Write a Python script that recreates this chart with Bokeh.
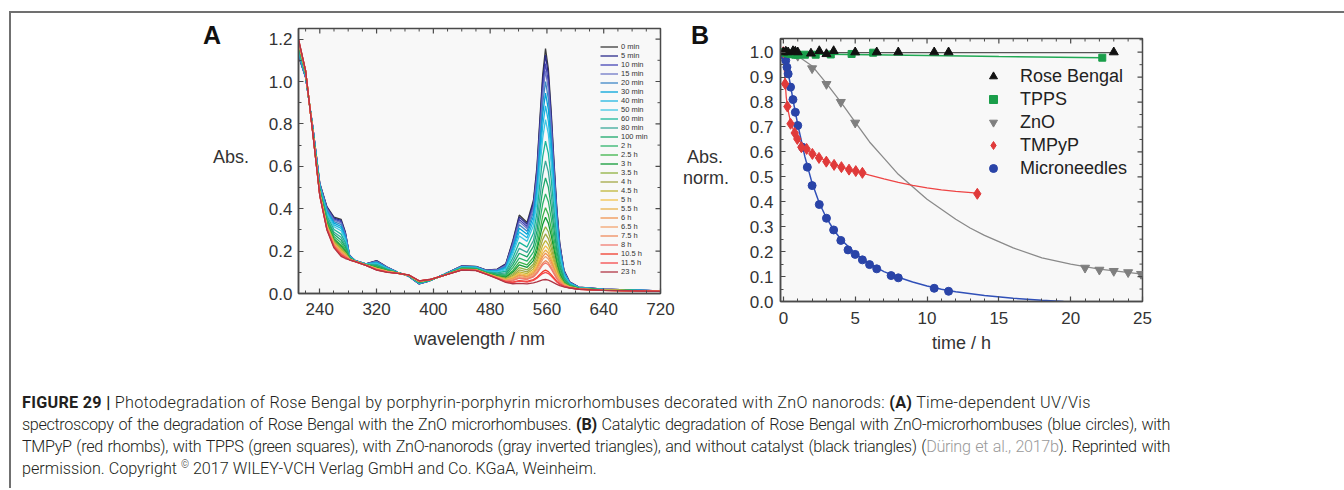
import math
from bokeh.plotting import figure
from bokeh.models import (Div, Legend, LegendItem, FixedTicker, NumeralTickFormatter, Range1d)
from bokeh.layouts import row, column
from bokeh.embed import file_html
from bokeh.resources import INLINE
from bokeh.core.properties import value

# ---------------- Panel A data: UV/Vis spectra ----------------
time_labels = ["0 min", "5 min", "10 min", "15 min", "20 min", "30 min", "40 min", "50 min",
               "60 min", "80 min", "100 min", "2 h", "2.5 h", "3 h", "3.5 h", "4 h", "4.5 h",
               "5 h", "5.5 h", "6 h", "6.5 h", "7.5 h", "8 h", "10.5 h", "11.5 h", "23 h"]
curve_colors = ["#3a3a3a", "#2b2b8c", "#4545b5", "#6f78c6", "#3d86c6", "#00a3d9", "#1fb5e0",
                "#3fc6e3", "#19b69a", "#3aa99a", "#1aa86a", "#2db46b", "#3bb34a", "#0f9a35",
                "#8fb13f", "#a3a844", "#bfb536", "#f2c14b", "#e8b048", "#f0944f", "#f3a36e",
                "#ee8a5c", "#f07a70", "#f03a2a", "#f5474a", "#b03545"]
wavelengths = [210, 220, 230, 240, 250, 260, 270, 276, 282, 290, 305, 320, 335, 350, 365, 380,
               395, 415, 440, 460, 475, 490, 502, 512, 521, 532, 541, 546, 550, 554, 558, 562,
               566, 570, 574, 578, 584, 592, 605, 640, 720]
# absorbance read at each wavelength, one value per spectrum (0 min ... 23 h)
absorbance = {
    210: [1.12, 1.12, 1.13, 1.13, 1.13, 1.14, 1.14, 1.15, 1.15, 1.16, 1.17, 1.17, 1.18, 1.18, 1.18, 1.18, 1.19, 1.19, 1.19, 1.19, 1.19, 1.19, 1.19, 1.20, 1.20, 1.20],
    220: [1.02, 1.02, 1.02, 1.02, 1.02, 1.03, 1.03, 1.03, 1.03, 1.04, 1.04, 1.04, 1.04, 1.04, 1.04, 1.04, 1.05, 1.05, 1.05, 1.05, 1.05, 1.05, 1.05, 1.05, 1.05, 1.05],
    230: [.79, .789, .788, .787, .786, .784, .783, .781, .778, .775, .773, .771, .769, .768, .767, .766, .765, .764, .764, .763, .763, .762, .762, .761, .761, .76],
    240: [.52, .518, .516, .514, .511, .508, .505, .502, .496, .491, .486, .482, .479, .476, .474, .472, .47, .469, .468, .467, .466, .465, .464, .462, .462, .46],
    250: [.41, .407, .403, .399, .394, .389, .383, .376, .366, .356, .348, .341, .334, .33, .325, .322, .319, .316, .314, .313, .311, .309, .308, .304, .303, .30],
    260: [.36, .356, .351, .346, .339, .332, .324, .315, .302, .289, .279, .269, .26, .254, .248, .244, .24, .236, .234, .232, .23, .227, .226, .221, .219, .215],
    270: [.35, .345, .339, .333, .325, .316, .307, .296, .28, .265, .252, .24, .229, .222, .215, .209, .205, .201, .197, .195, .193, .189, .188, .182, .18, .175],
    276: [.29, .287, .282, .278, .272, .266, .259, .252, .24, .229, .22, .211, .204, .199, .194, .19, .186, .183, .181, .179, .178, .175, .174, .17, .169, .165],
    282: [.18, .179, .179, .178, .177, .176, .175, .173, .171, .169, .168, .166, .165, .164, .163, .162, .162, .161, .161, .161, .16, .16, .16, .159, .159, .158],
    290: [.155, .155, .155, .155, .154, .154, .154, .153, .153, .153, .152, .152, .152, .151, .151, .151, .151, .151, .151, .151, .15, .15, .15, .15, .15, .15],
    305: [.14, .14, .14, .139, .139, .139, .138, .138, .137, .137, .136, .136, .135, .135, .135, .134, .134, .134, .134, .134, .134, .133, .133, .133, .133, .133],
    320: [.155, .154, .152, .151, .149, .146, .144, .141, .137, .133, .13, .127, .124, .122, .12, .119, .118, .117, .116, .115, .115, .114, .113, .112, .111, .11],
    335: [.125, .124, .123, .123, .121, .12, .119, .117, .115, .113, .111, .109, .108, .107, .106, .105, .104, .104, .103, .103, .103, .102, .102, .101, .101, .10],
    350: [.10, .10, .10, .10, .099, .099, .099, .098, .098, .098, .097, .097, .097, .096, .096, .096, .096, .096, .096, .096, .095, .095, .095, .095, .095, .095],
    365: [.082, .082, .082, .083, .083, .083, .083, .084, .084, .084, .085, .085, .085, .086, .086, .086, .086, .087, .087, .087, .087, .087, .087, .088, .088, .088],
    380: [.045, .045, .046, .046, .047, .048, .049, .05, .051, .052, .053, .054, .055, .056, .057, .057, .057, .058, .058, .058, .058, .059, .059, .06, .06, .06],
    395: [.06, .06, .06, .061, .061, .061, .061, .062, .062, .062, .063, .063, .063, .064, .064, .064, .064, .065, .065, .065, .065, .065, .065, .066, .066, .066],
    415: [.09, .09, .09, .09, .089, .089, .089, .088, .088, .088, .087, .087, .087, .086, .086, .086, .086, .086, .086, .086, .085, .085, .085, .085, .085, .085],
    440: [.13, .129, .129, .128, .127, .126, .125, .124, .122, .12, .119, .117, .116, .115, .115, .114, .113, .113, .113, .112, .112, .112, .111, .111, .111, .11],
    460: [.128, .127, .127, .126, .125, .124, .123, .122, .12, .118, .117, .115, .114, .113, .113, .112, .111, .111, .111, .11, .11, .11, .109, .109, .109, .108],
    475: [.11, .109, .109, .108, .107, .106, .105, .104, .102, .10, .099, .097, .096, .095, .095, .094, .093, .093, .093, .092, .092, .092, .091, .091, .091, .09],
    490: [.115, .114, .112, .111, .109, .106, .104, .101, .097, .093, .09, .087, .084, .082, .08, .079, .078, .077, .076, .075, .075, .074, .073, .072, .071, .07],
    502: [.14, .138, .134, .132, .128, .123, .118, .113, .105, .097, .091, .085, .079, .076, .072, .069, .067, .065, .063, .062, .061, .059, .058, .056, .055, .052],
    512: [.25, .244, .237, .23, .221, .211, .199, .187, .168, .151, .136, .122, .109, .101, .093, .086, .08, .076, .072, .069, .066, .063, .061, .054, .052, .046],
    521: [.37, .361, .349, .339, .324, .308, .29, .271, .241, .213, .19, .167, .148, .135, .122, .111, .102, .095, .089, .085, .08, .074, .072, .061, .058, .048],
    532: [.335, .327, .316, .307, .294, .279, .263, .246, .219, .194, .173, .153, .135, .123, .111, .102, .094, .087, .082, .078, .074, .069, .066, .057, .054, .045],
    541: [.44, .429, .415, .403, .385, .365, .343, .32, .284, .25, .222, .195, .171, .155, .139, .127, .116, .107, .10, .094, .089, .082, .078, .066, .062, .05],
    546: [.60, .585, .565, .548, .523, .495, .465, .432, .382, .335, .295, .257, .224, .202, .18, .162, .147, .135, .125, .117, .11, .10, .095, .077, .072, .055],
    550: [.82, .799, .771, .747, .712, .673, .632, .586, .516, .45, .394, .342, .296, .265, .234, .21, .188, .171, .157, .147, .136, .122, .115, .09, .084, .06],
    554: [1.03, 1.003, .968, .937, .893, .844, .79, .732, .644, .56, .489, .422, .364, .325, .285, .254, .227, .205, .188, .174, .161, .143, .135, .103, .094, .064],
    558: [1.155, 1.125, 1.085, 1.05, 1.0, .945, .885, .82, .719, .625, .545, .47, .405, .36, .315, .281, .25, .225, .205, .19, .175, .155, .145, .11, .10, .066],
    562: [1.06, 1.032, .996, .964, .918, .868, .813, .753, .661, .574, .502, .433, .373, .332, .291, .259, .231, .209, .191, .177, .163, .145, .136, .103, .094, .063],
    566: [.86, .838, .809, .783, .746, .705, .661, .613, .539, .469, .41, .355, .307, .274, .241, .215, .193, .174, .16, .149, .137, .123, .116, .089, .082, .057],
    570: [.62, .604, .584, .565, .539, .51, .479, .444, .392, .342, .301, .261, .227, .204, .181, .162, .146, .133, .123, .115, .107, .097, .092, .073, .068, .05],
    574: [.40, .39, .377, .366, .349, .331, .311, .29, .257, .226, .20, .175, .154, .139, .125, .113, .103, .095, .089, .084, .079, .072, .069, .057, .054, .043],
    578: [.24, .234, .227, .221, .211, .201, .19, .177, .159, .141, .126, .112, .10, .092, .083, .077, .071, .067, .063, .06, .057, .054, .052, .045, .043, .037],
    584: [.11, .108, .105, .102, .099, .095, .09, .086, .078, .072, .066, .06, .056, .052, .049, .047, .044, .043, .041, .04, .039, .037, .037, .034, .033, .031],
    592: [.055, .054, .053, .052, .051, .049, .048, .046, .043, .041, .039, .037, .035, .034, .033, .032, .031, .03, .03, .029, .029, .028, .028, .027, .027, .026],
    605: [.03, .03, .029, .029, .029, .028, .028, .027, .026, .025, .024, .024, .023, .023, .022, .022, .022, .021, .021, .021, .021, .021, .021, .02, .02, .02],
    640: [.02, .02, .02, .02, .019, .019, .019, .018, .018, .018, .017, .017, .017, .016, .016, .016, .016, .016, .016, .016, .015, .015, .015, .015, .015, .015],
    720: [.012, .012, .012, .012, .012, .012, .012, .011, .011, .011, .011, .011, .011, .011, .011, .011, .011, .01, .01, .01, .01, .01, .01, .01, .01, .01],
}
A_X_RANGE = (210, 720)
A_Y_RANGE = (0, 1.25)
A_X_MAJOR = [240, 320, 400, 480, 560, 640, 720]
A_X_MINOR = [220, 260, 280, 300, 340, 360, 380, 420, 440, 460, 500, 520, 540, 580, 600, 620, 660, 680, 700]
A_Y_MAJOR = [0.0, 0.2, 0.4, 0.6, 0.8, 1.0, 1.2]
A_Y_MINOR = [0.1, 0.3, 0.5, 0.7, 0.9, 1.1]

# ---------------- Panel B data: kinetics ----------------
series_names = ["Rose Bengal", "TPPS", "ZnO", "TMPyP", "Microneedles"]
rb_t = [0.0, 0.17, 0.33, 0.67, 0.83, 1.0, 1.92, 2.5, 3.0, 3.5, 5.0, 6.5, 8.0, 10.5, 11.5, 23.0]
rb_v = [1.0, 1.003, 1.0, 1.005, 1.003, 1.0, 0.995, 1.005, 0.993, 1.005, 1.0, 1.0, 1.0, 1.0, 1.0, 1.0]
rb_fit_t = [0.0, 23.0]
rb_fit_v = [0.998, 0.998]

tp_t = [0.0, 0.17, 0.33, 0.5, 0.67, 0.83, 1.0, 1.5, 2.25, 3.3, 4.75, 6.25, 22.2]
tp_v = [1.0, 0.997, 0.995, 0.993, 0.992, 0.99, 0.99, 0.99, 0.99, 0.991, 0.993, 0.998, 0.978]
tp_fit_t = [0.0, 0.5, 1.0, 3.0, 6.0, 10.0, 15.0, 22.2]
tp_fit_v = [0.998, 0.995, 0.993, 0.992, 0.99, 0.987, 0.983, 0.978]

zn_t = [0.0, 0.33, 1.0, 2.0, 3.0, 4.0, 5.0, 21.0, 22.0, 23.0, 24.0, 24.9]
zn_v = [1.0, 0.998, 0.985, 0.935, 0.872, 0.80, 0.717, 0.135, 0.127, 0.122, 0.117, 0.11]
zn_fit_t = [0, 1, 2, 3, 4, 5, 6, 7, 8, 9, 10, 11, 12, 13, 14, 16, 18, 20, 22, 25]
zn_fit_v = [1.0, 0.985, 0.945, 0.875, 0.80, 0.72, 0.64, 0.575, 0.51, 0.46, 0.41, 0.37, 0.33,
            0.295, 0.265, 0.215, 0.175, 0.15, 0.13, 0.11]

tm_t = [0.0, 0.12, 0.28, 0.5, 0.79, 0.97, 1.25, 1.62, 2.02, 2.48, 2.99, 3.53, 4.04, 4.57, 5.04, 5.5, 13.5]
tm_v = [1.0, 0.873, 0.782, 0.713, 0.676, 0.652, 0.619, 0.612, 0.592, 0.576, 0.561, 0.548, 0.539,
        0.529, 0.523, 0.516, 0.432]
tm_fit_t = [0, 0.1, 0.2, 0.3, 0.5, 0.75, 1, 1.5, 2, 3, 4, 5, 6, 7, 8, 9, 10, 11, 12, 13.5]
tm_fit_v = [1.0, 0.9, 0.82, 0.775, 0.72, 0.68, 0.652, 0.618, 0.595, 0.562, 0.54, 0.523, 0.507,
            0.492, 0.478, 0.466, 0.456, 0.448, 0.442, 0.435]

mn_t = [0, 0.083, 0.167, 0.25, 0.333, 0.5, 0.667, 0.833, 1.0, 1.333, 1.667, 2.0, 2.5, 3.0, 3.5,
        4.0, 4.5, 5.0, 5.5, 6.0, 6.5, 7.5, 8.0, 10.5, 11.5]
mn_v = [1.0, 0.985, 0.967, 0.94, 0.913, 0.86, 0.81, 0.759, 0.706, 0.619, 0.539, 0.465, 0.389,
        0.334, 0.287, 0.245, 0.207, 0.189, 0.167, 0.148, 0.131, 0.104, 0.095, 0.053, 0.041]
mn_fit_t = [0, 0.25, 0.5, 0.75, 1, 1.5, 2, 2.5, 3, 3.5, 4, 5, 6, 7, 8, 9, 10, 11, 12, 14, 16, 18, 19.5]
mn_fit_v = [1.02, 0.945, 0.865, 0.785, 0.71, 0.58, 0.475, 0.395, 0.335, 0.288, 0.25, 0.193, 0.152,
            0.12, 0.097, 0.078, 0.062, 0.049, 0.039, 0.024, 0.013, 0.005, 0.0]
B_X_RANGE = (-0.2, 25)
B_Y_RANGE = (0, 1.055)
B_X_MAJOR = [0, 5, 10, 15, 20, 25]
B_X_MINOR = [1, 2, 3, 4, 6, 7, 8, 9, 11, 12, 13, 14, 16, 17, 18, 19, 21, 22, 23, 24]
B_Y_MAJOR = [0.0, 0.1, 0.2, 0.3, 0.4, 0.5, 0.6, 0.7, 0.8, 0.9, 1.0]
B_Y_MINOR = [0.05, 0.15, 0.25, 0.35, 0.45, 0.55, 0.65, 0.75, 0.85, 0.95, 1.05]

FONT = "Liberation Sans"
AX = "#4a4a4a"


def style_axis(ax):
    ax.axis_line_color = AX
    ax.axis_line_width = 1.5
    ax.major_tick_in = 5
    ax.major_tick_out = 0
    ax.minor_tick_in = 3
    ax.minor_tick_out = 0
    ax.major_tick_line_color = AX
    ax.minor_tick_line_color = AX
    ax.major_tick_line_width = 1.2
    ax.minor_tick_line_width = 1
    ax.major_label_text_font = FONT
    ax.major_label_text_color = "#333333"
    ax.major_label_text_font_size = "17px"
    ax.axis_label_text_font = FONT
    ax.axis_label_text_font_size = "18px"
    ax.axis_label_text_font_style = "normal"
    ax.axis_label_text_color = "#333333"


def make_fig(width, height, xr, yr, left, right, top, bottom):
    p = figure(width=width, height=height, x_range=Range1d(*xr), y_range=Range1d(*yr),
               output_backend="svg", toolbar_location=None,
               min_border_left=left, min_border_right=right,
               min_border_top=top, min_border_bottom=bottom,
               background_fill_color="#f8f8f8", border_fill_color="white",
               outline_line_color=AX, outline_line_width=1.5)
    p.grid.visible = False
    return p


def mirror_ticks(p, xr, yr, xmaj, xmin, ymaj, ymin):
    # inward tick marks on the top and right edges of the frame
    p.scatter(xmaj, [yr[1]] * len(xmaj), marker="dash", size=10, angle=math.pi / 2,
              line_color=AX, line_width=1.2)
    p.scatter(xmin, [yr[1]] * len(xmin), marker="dash", size=6, angle=math.pi / 2,
              line_color=AX, line_width=1)
    p.scatter([xr[1]] * len(ymaj), ymaj, marker="dash", size=10, line_color=AX, line_width=1.2)
    p.scatter([xr[1]] * len(ymin), ymin, marker="dash", size=6, line_color=AX, line_width=1)


# ---------------- Panel A ----------------
pA = make_fig(420, 355, A_X_RANGE, A_Y_RANGE, 38, 20, 15, 75)
pA.xaxis.ticker = FixedTicker(ticks=A_X_MAJOR, minor_ticks=A_X_MINOR)
pA.yaxis.ticker = FixedTicker(ticks=A_Y_MAJOR, minor_ticks=A_Y_MINOR)
pA.yaxis.formatter = NumeralTickFormatter(format="0.0")
pA.xaxis.axis_label = "wavelength / nm"
for ax in pA.xaxis + pA.yaxis:
    style_axis(ax)
pA.xaxis.major_label_standoff = 9
pA.xaxis.axis_label_standoff = 11
pA.yaxis.major_label_standoff = 6

rendA = []
for i, lab in enumerate(time_labels):
    ys = [absorbance[w][i] for w in wavelengths]
    r = pA.line(wavelengths, ys, line_color=curve_colors[i], line_width=1.3)
    rendA.append(r)
mirror_ticks(pA, A_X_RANGE, A_Y_RANGE, A_X_MAJOR, A_X_MINOR, A_Y_MAJOR, A_Y_MINOR)

legA = Legend(items=[LegendItem(label=value(l), renderers=[r]) for l, r in zip(time_labels, rendA)],
              location=(300, 15), label_text_font_size="7.5px", label_text_font=FONT,
              label_text_color="#333333", label_height=9, glyph_height=9, glyph_width=18,
              spacing=0, padding=2, label_standoff=3, margin=0,
              background_fill_alpha=0, border_line_alpha=0)
pA.add_layout(legA)

# ---------------- Panel B ----------------
pB = make_fig(596, 353, B_X_RANGE, B_Y_RANGE, 40, 194, 15, 75)
pB.xaxis.ticker = FixedTicker(ticks=B_X_MAJOR, minor_ticks=B_X_MINOR)
pB.yaxis.ticker = FixedTicker(ticks=B_Y_MAJOR, minor_ticks=B_Y_MINOR)
pB.yaxis.formatter = NumeralTickFormatter(format="0.0")
pB.xaxis.axis_label = "time / h"
for ax in pB.xaxis + pB.yaxis:
    style_axis(ax)
pB.xaxis.major_label_standoff = 10
pB.xaxis.axis_label_standoff = 6
pB.yaxis.major_label_standoff = 7

pB.line(zn_fit_t, zn_fit_v, line_color="#8a8a8a", line_width=1.3)
pB.line(rb_fit_t, rb_fit_v, line_color="#555555", line_width=1.3)
pB.line(tp_fit_t, tp_fit_v, line_color="#22aa55", line_width=1.5)
pB.line(tm_fit_t, tm_fit_v, line_color="#ee4444", line_width=1.3)
pB.line(mn_fit_t, mn_fit_v, line_color="#3050b8", line_width=1.5)

r_mn = pB.scatter(mn_t, mn_v, marker="circle", size=8, color="#2a44a8")
r_zn = pB.scatter(zn_t, zn_v, marker="inverted_triangle", size=9, color="#7f7f7f")
r_tm = pB.scatter(tm_t, tm_v, marker="diamond", size=11, color="#e03a3a")
r_tp = pB.scatter(tp_t, tp_v, marker="square", size=7, color="#1a9e4a")
r_rb = pB.scatter(rb_t, rb_v, marker="triangle", size=9, color="#111111")
mirror_ticks(pB, B_X_RANGE, B_Y_RANGE, B_X_MAJOR, B_X_MINOR, B_Y_MAJOR, B_Y_MINOR)

legB = Legend(items=[LegendItem(label=value(n), renderers=[r]) for n, r in
                     zip(series_names, [r_rb, r_tp, r_zn, r_tm, r_mn])],
              location=(198, 117), label_text_font_size="18px", label_text_font=FONT,
              label_text_color="#222222", label_height=22, glyph_height=22, glyph_width=20,
              spacing=1, padding=5, label_standoff=17, margin=0,
              background_fill_alpha=0, border_line_alpha=0)
pB.add_layout(legB)

# ---------------- panel letters and y titles ----------------
TXT = "position:absolute;font-family:'Liberation Sans',Arial,sans-serif;white-space:nowrap;"
labA_html = (
    '<div style="position:relative;width:249px;height:355px">'
    f'<div style="{TXT}left:181px;top:10px;width:40px;text-align:center;font-size:25px;'
    'line-height:25px;font-weight:bold;color:#111">A</div>'
    f'<div style="{TXT}left:180px;top:134px;width:80px;text-align:center;font-size:18px;'
    'line-height:20px;color:#333">Abs.</div>'
    '</div>'
)
labB_html = (
    '<div style="position:relative;width:60px;height:355px">'
    f'<div style="{TXT}left:0px;top:10px;width:40px;text-align:center;font-size:25px;'
    'line-height:25px;font-weight:bold;color:#111">B</div>'
    f'<div style="{TXT}left:-5px;top:134px;width:60px;text-align:center;font-size:18px;'
    'line-height:20px;color:#333">Abs.</div>'
    f'<div style="{TXT}left:-4px;top:155px;width:60px;text-align:center;font-size:18px;'
    'line-height:20px;color:#333">norm.</div>'
    '</div>'
)
labA = Div(text=labA_html, width=249, height=355, margin=(0, 0, 0, 0))
labB = Div(text=labB_html, width=60, height=355, margin=(0, 0, 0, 0))

# ---------------- caption & frame ----------------
LN = "height:22px;white-space:nowrap;"
JL = "width:1148px;height:22px;text-align:justify;text-align-last:justify;letter-spacing:-0.35px;"
caption_html = (
    '<div style="font-family:Roboto,sans-serif;font-weight:300;font-size:16.2px;line-height:22px;'
    'color:#231f20;padding-left:11px">'
    f'<div style="{LN}letter-spacing:0.28px">'
    '<span style="font-weight:700">FIGURE 29 |</span> Photodegradation of Rose Bengal by '
    'porphyrin-porphyrin microrhombuses decorated with ZnO nanorods: '
    '<span style="font-weight:700">(A)</span> Time-dependent UV/Vis</div>'
    f'<div style="{JL}">'
    'spectroscopy of the degradation of Rose Bengal with the ZnO microrhombuses. '
    '<span style="font-weight:700">(B)</span> Catalytic degradation of Rose Bengal with '
    'ZnO-microrhombuses (blue circles), with</div>'
    f'<div style="{JL}">'
    'TMPyP (red rhombs), with TPPS (green squares), with ZnO-nanorods (gray inverted triangles), '
    'and without catalyst (black triangles) (<span style="color:#9a9a9a">D\u00fcring et al., 2017b'
    '</span>). Reprinted with</div>'
    f'<div style="{LN}">'
    'permission. Copyright <span style="font-size:10px;position:relative;top:-6px">\u00a9</span> '
    '2017 WILEY-VCH Verlag GmbH and Co. KGaA, Weinheim.</div>'
    '</div>'
)
caption = Div(text=caption_html, width=1325, height=88, margin=(16, 0, 0, 0))
top_line = Div(text="", width=1335, height=2, margin=(11, 0, 0, 9),
               styles={"background-color": "#707070"})
left_line = Div(text="", width=2, height=475, margin=(0, 0, 0, 9),
                styles={"background-color": "#707070"})
b_spacer = Div(text="", width=596, height=10, margin=(0, 0, 0, 0))

panels = row(labA, pA, labB, column(b_spacer, pB))
layout = column(top_line, row(left_line, column(panels, caption)))

open("out.html", "w").write(file_html(layout, INLINE))
